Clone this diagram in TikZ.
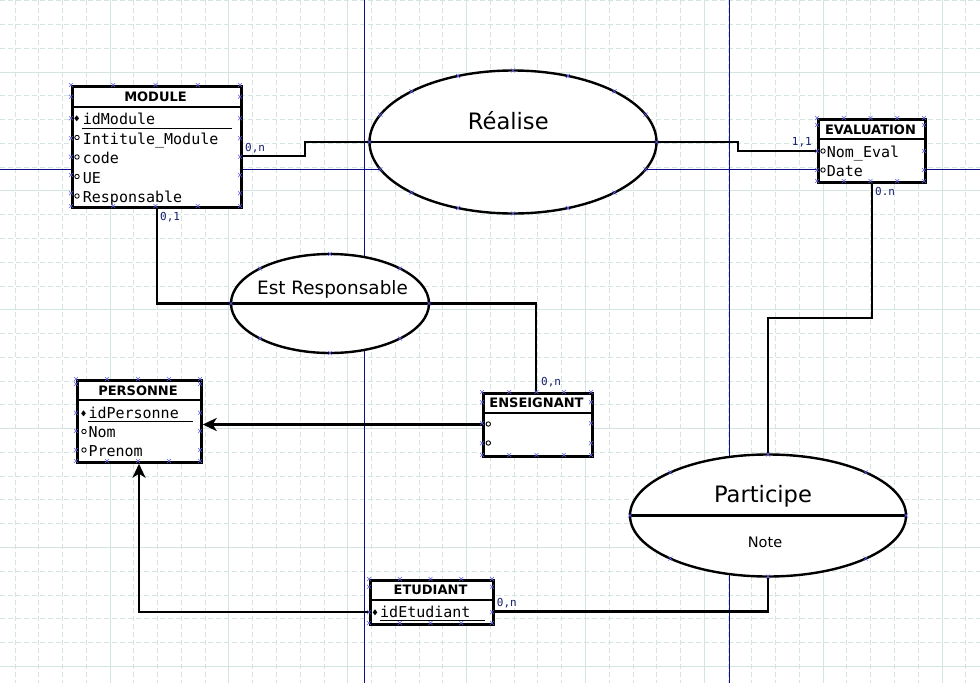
\documentclass[tikz,border=0pt]{standalone}
\usepackage{fontspec}
\setmainfont{DejaVu Sans}
\newfontfamily\attrfont{DejaVu Sans Mono}
\usetikzlibrary{shapes.geometric,arrows.meta}
\definecolor{gridc}{RGB}{212,228,226}
\definecolor{axisc}{RGB}{15,15,140}
\definecolor{handc}{RGB}{95,95,230}
\definecolor{cardc}{RGB}{20,30,110}
\newcommand\hx[2]{\draw[handle] ({#1-2},{#2-2}) -- ({#1+2},{#2+2}) ({#1-2},{#2+2}) -- ({#1+2},{#2-2});}
\newcommand\boxhx[5]{\foreach \t in {0,0.25,0.5,0.75,1}{\hx{#1+\t*(#3-#1)}{#2}\hx{#1+\t*(#3-#1)}{#4}}\foreach \u in {#5}{\hx{#1}{\u}\hx{#3}{\u}}}
\tikzset{
  gridd/.style={gridc, line width=0.8pt, dash pattern=on 5pt off 3pt},
  grids/.style={gridc, line width=0.9pt},
  axis/.style={axisc, line width=0.9pt},
  entity/.style={draw, line width=2.7pt, fill=white, anchor=north west, inner sep=0pt},
  sepline/.style={line width=2.5pt},
  assoc/.style={ellipse, draw, line width=2.4pt, fill=white, inner sep=0pt},
  link/.style={line width=2.5pt},
  arrowtip/.style={-{Stealth[length=14pt,width=13pt,inset=4pt]}},
  etitle/.style={font=\bfseries\fontsize{13}{13}\selectfont, anchor=base, inner sep=0pt},
  attr/.style={font=\attrfont\fontsize{15}{15}\selectfont, anchor=base west, inner sep=0pt},
  card/.style={font=\attrfont\fontsize{11}{11}\selectfont, text=cardc, anchor=base west, inner sep=0pt},
  big/.style={font=\fontsize{22.6}{22.6}\selectfont, anchor=base, inner sep=0pt},
  uline/.style={line width=1.2pt},
  handle/.style={draw=handc, line width=0.6pt},
  attrdot/.style={line width=0.9pt}
}
\begin{document}
\begin{tikzpicture}[x=1pt,y=-1pt]
\useasboundingbox (0,0) rectangle (980,683);
\fill[white] (0,0) rectangle (980,683);
% grid
\foreach \k in {0,...,41} \draw[gridd] ({14.92+\k*23.77},0) -- ++(0,683);
\foreach \k in {0,...,29} \draw[gridd] (0,{0.69+\k*23.77}) -- ++(980,0);
\foreach \k in {0,...,7} \draw[grids] ({110+\k*118.85},0) -- ++(0,683);
\foreach \k in {0,...,5} \draw[grids] (0,{72+\k*118.85}) -- ++(980,0);
% axes
\draw[axis] (364.5,0) -- (364.5,683);
\draw[axis] (729.5,0) -- (729.5,683);
\draw[axis] (0,169) -- (980,169);

% ===== entities =====
% MODULE
\node[entity, minimum width=169pt, minimum height=121pt] (module) at (71,85) {};
\draw[sepline] (module.west |- 0,107) -- (module.east |- 0,107);
\node[etitle] (moduleT) at (155.5,101.7) {MODULE};
\node[attr] (m1) at (82.7,124.3) {idModule};
\draw[uline] (82,128.3) -- (232,128.3);
\node[attr] (m2) at (82.7,144) {Intitule\_Module};
\node[attr] (m3) at (82.7,163.5) {code};
\node[attr] (m4) at (82.7,183) {UE};
\node[attr] (m5) at (82.7,202.5) {Responsable};
\fill (76.7,118.3) +(-2.3,0) -- +(0,-3) -- +(2.3,0) -- +(0,3) -- cycle;
\foreach \yy in {137.5,157,176.5,196} \draw[attrdot] (77,\yy) circle[radius=2.2pt];

% EVALUATION
\node[entity, minimum width=107pt, minimum height=63pt] (evaluation) at (817,118) {};
\draw[sepline] (evaluation.west |- 0,139) -- (evaluation.east |- 0,139);
\node[etitle] (evaluationT) at (870.5,134.3) {EVALUATION};
\node[attr] (e1) at (826.7,157.7) {Nom\_Eval};
\node[attr] (e2) at (826.7,176.7) {Date};
\foreach \yy in {151,170} \draw[attrdot] (823,\yy) circle[radius=2.2pt];

% PERSONNE
\node[entity, minimum width=124pt, minimum height=82pt] (personne) at (76,379) {};
\draw[sepline] (personne.west |- 0,400) -- (personne.east |- 0,400);
\node[etitle] (personneT) at (138,395.7) {PERSONNE};
\node[attr] (p1) at (88.3,418.3) {idPersonne};
\draw[uline] (88,421.5) -- (193,421.5);
\node[attr] (p2) at (88.3,437) {Nom};
\node[attr] (p3) at (88.3,456) {Prenom};
\fill (83.5,413.3) +(-2.3,0) -- +(0,-3) -- +(2.3,0) -- +(0,3) -- cycle;
\foreach \yy in {431.5,450} \draw[attrdot] (84,\yy) circle[radius=2.2pt];

% ENSEIGNANT
\node[entity, minimum width=109pt, minimum height=63pt] (enseignant) at (482,392) {};
\draw[sepline] (enseignant.west |- 0,413) -- (enseignant.east |- 0,413);
\node[etitle] (enseignantT) at (536.5,407.7) {ENSEIGNANT};
\foreach \yy in {424,443} \draw[attrdot] (488.3,\yy) circle[radius=2.2pt];

% ETUDIANT
\node[entity, minimum width=123pt, minimum height=44pt] (etudiant) at (369,579) {};
\draw[sepline] (etudiant.west |- 0,600) -- (etudiant.east |- 0,600);
\node[etitle] (etudiantT) at (430.5,594.3) {ETUDIANT};
\node[attr] (s1) at (380,617.7) {idEtudiant};
\draw[uline] (380,620.3) -- (485,620.3);
\fill (375,612.3) +(-2.3,0) -- +(0,-3) -- +(2.3,0) -- +(0,3) -- cycle;

% ===== associations =====
\node[assoc, minimum width=287pt, minimum height=143pt] (realise) at (513,142) {};
\node[big] (realiseT) at (508.3,129.3) {Réalise};
\node[assoc, minimum width=198pt, minimum height=99pt] (estresp) at (330,303.5) {};
\node[big, font=\fontsize{18.4}{18.4}\selectfont] (estrespT) at (332.5,294) {Est Responsable};
\node[assoc, minimum width=276pt, minimum height=122pt] (participe) at (768,515.5) {};
\draw[sepline] (participe.west) -- (participe.east);
\node[big] (participeT) at (763,502.7) {Participe};
\node[big, font=\fontsize{14.5}{14.5}\selectfont] (participeN) at (765,547.7) {Note};

% ===== connectors =====
\draw[link] (module.east |- 0,156) -- (305,156) |- (realise.west) -- (realise.east) -- (738,142) |- (evaluation.west |- 0,151);
\draw[link] (module.south -| 157,0) -- (157,303.5) -- (estresp.west) -- (estresp.east) -| (enseignant.north -| 536,0);
\draw[link] (evaluation.south -| 872,0) |- (768,318) -- (participe.north);
\draw[link] (etudiant.east |- 0,611.5) -| (participe.south);
\draw[link, arrowtip] (enseignant.west |- 0,424.5) -- (personne.east |- 0,424.5);
\draw[link, arrowtip] (etudiant.west |- 0,612) -| (personne.south -| 139,0);

% cardinalities
\node[card] (c1) at (245,151) {0,n};
\node[card] (c2) at (791.7,145.5) {1,1};
\node[card] (c3) at (160,220) {0,1};
\node[card] (c4) at (541,385.7) {0,n};
\node[card] (c5) at (875,195) {0.n};
\node[card] (c6) at (496.7,606) {0,n};

% ===== handles =====
\boxhx{71}{85}{240}{206}{96.7,118.3,138.3,156.7,175,193.3}
\boxhx{817}{118}{924}{181}{125,151,170}
\boxhx{76}{379}{200}{461}{384,412.7,431,450}
\boxhx{482}{392}{591}{455}{402.3,423.3,443.3}
\boxhx{369}{579}{492}{623}{586.7,612.3}
\foreach \a in {0,22.5,...,337.5} {\hx{513+143.5*cos(\a)}{142+71.5*sin(\a)}}
\foreach \a in {0,45,...,315} {\hx{330+99*cos(\a)}{303.5+49.5*sin(\a)}}
\foreach \a in {0,45,...,315} {\hx{768+138*cos(\a)}{515.5+61*sin(\a)}}
\end{tikzpicture}
\end{document}
